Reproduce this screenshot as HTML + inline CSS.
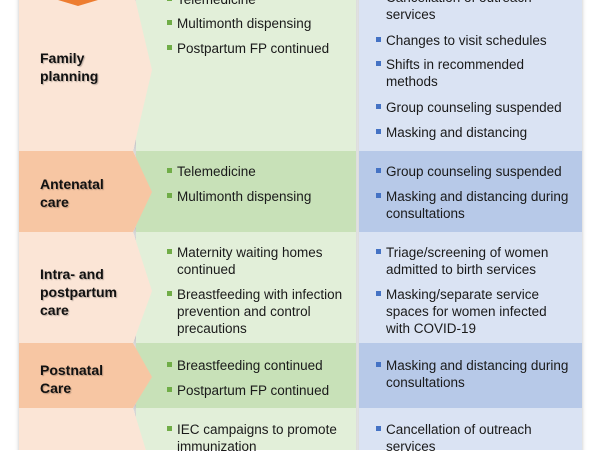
<!DOCTYPE html><html><head><style>
body{margin:0;width:600px;height:450px;overflow:hidden;background:#fff;position:relative;font-family:"Liberation Sans",sans-serif}
.t{position:absolute;font-size:13.5px;color:#1a1a1a;white-space:nowrap;line-height:17px}
.b{position:absolute;font-size:14px;font-weight:bold;color:#111;line-height:18px;text-shadow:1px 1px 1px rgba(0,0,0,.25)}
.g::before,.u::before{content:"";position:absolute;left:-10px;top:5px;width:5px;height:5px}
.g::before{background:#70ad47}.u::before{background:#4472c4}
</style></head><body>
<svg width="600" height="450" style="position:absolute;left:0;top:0">
<defs>
<filter id="s" x="-10%" y="-10%" width="120%" height="120%"><feDropShadow dx="0" dy="2" stdDeviation="2" flood-opacity=".25"/></filter>
</defs>
<g filter="url(#s)">
<rect x="136" y="-10" width="220" height="161" fill="#e2efd9"/>
<rect x="136" y="151" width="220" height="81" fill="#c8e1b8"/>
<rect x="136" y="232" width="220" height="111" fill="#e2efd9"/>
<rect x="136" y="343" width="220" height="65" fill="#c8e1b8"/>
<rect x="136" y="408" width="220" height="50" fill="#e2efd9"/>
<rect x="359" y="-10" width="223" height="161" fill="#dae3f3"/>
<rect x="359" y="151" width="223" height="81" fill="#b7c9e8"/>
<rect x="359" y="232" width="223" height="111" fill="#dae3f3"/>
<rect x="359" y="343" width="223" height="65" fill="#b7c9e8"/>
<rect x="359" y="408" width="223" height="50" fill="#dae3f3"/>
<polygon points="19,-10 133,-10 152,70 133,151 19,151" fill="#fbe5d6"/>
<polygon points="19,151 133,151 152,192 133,232 19,232" fill="#f7c6a3"/>
<polygon points="19,232 133,232 152,291 133,343 19,343" fill="#fbe5d6"/>
<polygon points="19,343 133,343 152,377 133,408 19,408" fill="#f7c6a3"/>
<polygon points="19,408 133,408 152,470 133,470 19,470" fill="#fbe5d6"/>
</g>
<polygon points="58,0 98,0 78,6" fill="#ed7d31"/>
</svg>
<div class="b" style="left:40px;top:49px">Family<br>planning</div>
<div class="b" style="left:40px;top:175px">Antenatal<br>care</div>
<div class="b" style="left:40px;top:265px">Intra- and<br>postpartum<br>care</div>
<div class="b" style="left:40px;top:361px">Postnatal<br>Care</div>

<div class="t g" style="left:177px;top:-9px">Telemedicine</div>
<div class="t g" style="left:177px;top:15px">Multimonth dispensing</div>
<div class="t g" style="left:177px;top:40px">Postpartum FP continued</div>
<div class="t g" style="left:177px;top:163px">Telemedicine</div>
<div class="t g" style="left:177px;top:188px">Multimonth dispensing</div>
<div class="t g" style="left:177px;top:244px">Maternity waiting homes<br>continued</div>
<div class="t g" style="left:177px;top:286px">Breastfeeding with infection<br>prevention and control<br>precautions</div>
<div class="t g" style="left:177px;top:357px">Breastfeeding continued</div>
<div class="t g" style="left:177px;top:382px">Postpartum FP continued</div>
<div class="t g" style="left:177px;top:421px">IEC campaigns to promote<br>immunization</div>

<div class="t u" style="left:386px;top:-11px">Cancellation of outreach<br>services</div>
<div class="t u" style="left:386px;top:32px">Changes to visit schedules</div>
<div class="t u" style="left:386px;top:56px">Shifts in recommended<br>methods</div>
<div class="t u" style="left:386px;top:99px">Group counseling suspended</div>
<div class="t u" style="left:386px;top:124px">Masking and distancing</div>
<div class="t u" style="left:386px;top:163px">Group counseling suspended</div>
<div class="t u" style="left:386px;top:188px">Masking and distancing during<br>consultations</div>
<div class="t u" style="left:386px;top:244px">Triage/screening of women<br>admitted to birth services</div>
<div class="t u" style="left:386px;top:286px">Masking/separate service<br>spaces for women infected<br>with COVID-19</div>
<div class="t u" style="left:386px;top:357px">Masking and distancing during<br>consultations</div>
<div class="t u" style="left:386px;top:421px">Cancellation of outreach<br>services</div>
</body></html>
